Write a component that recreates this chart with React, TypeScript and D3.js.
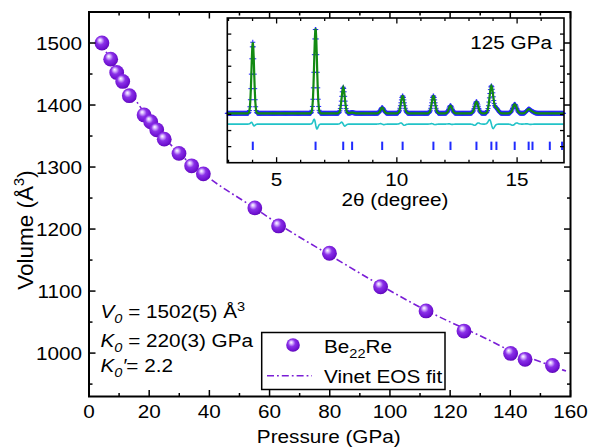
import React from 'react';
import * as d3 from 'd3';

// ---------- main data: Be22Re compression ----------
const pressure = [4.3, 7.2, 9.2, 11.2, 13.4, 18.3, 20.5, 22.5, 25.0, 29.9, 34.1, 38.0, 55.1, 63.0, 79.9, 96.9, 112.0, 124.6, 140.1, 144.9, 154.0];
const volume = [1500, 1474, 1452.5, 1438, 1415, 1384, 1373, 1360, 1345, 1322, 1302, 1289, 1234, 1205, 1161, 1107, 1068, 1035.5, 999.5, 990, 980];

// Vinet EOS fit curve
const fitP = [4, 10, 20, 30, 40, 55, 63, 80, 97, 112, 125, 130, 140, 150, 158.5];
const fitV = [1500, 1450, 1377, 1322, 1282, 1234, 1208, 1158, 1109, 1069, 1039, 1028, 1004, 986, 971];

const xMajor = [0, 20, 40, 60, 80, 100, 120, 140, 160];
const xMinor = [10, 30, 50, 70, 90, 110, 130, 150];
const yMajor = [1000, 1100, 1200, 1300, 1400, 1500];
const yMinor = [950, 1050, 1150, 1250, 1350, 1450, 1550];

// ---------- inset data: XRD pattern at 125 GPa ----------
const peakPos = [4.01, 6.62, 7.77, 8.14, 9.39, 10.24, 11.52, 12.23, 13.31, 13.93, 14.14, 14.9, 15.48, 15.64];
const peakHeight = [4.42, 5.29, 1.62, 0.05, 0.35, 1.08, 1.08, 0.47, 0.72, 1.7, 0.3, 0.56, 0.25, 0.08];
const peakWidth = [0.055, 0.058, 0.065, 0.065, 0.07, 0.07, 0.07, 0.07, 0.075, 0.075, 0.075, 0.08, 0.08, 0.08];
const diffAmp = [0.18, 0.5, 0.2, 0, 0.05, 0.12, 0.05, 0.03, -0.12, 0.45, 0, -0.12, 0.03, 0];
const reflections = [4.01, 6.62, 7.77, 8.14, 9.39, 10.24, 11.52, 12.23, 13.31, 13.93, 14.14, 14.9, 15.48, 15.64, 16.36, 16.87];
const obsBaseline = 3.07;
const diffBaseline = 2.4;
const insetXMajor = [5, 10, 15];
const insetXMinor = [3, 4, 6, 7, 8, 9, 11, 12, 13, 14, 16];
const insetYTicks = [1, 2, 3, 4, 5, 6, 7, 8];

const FONT = '"Liberation Sans", Arial, Helvetica, sans-serif';
const SX = 1.12;
const FS = 18.5;
const PURPLE = '#7a1ed6';

function T({ x, y, anchor = 'start', size = FS, rotate = false, sx = SX, children }: any) {
  const tr = rotate
    ? `translate(${x},${y}) rotate(-90) scale(1,${sx})`
    : `translate(${x},${y}) scale(${sx},1)`;
  return (
    <text transform={tr} textAnchor={anchor} fontSize={size} fontFamily={FONT} fill="#000">
      {children}
    </text>
  );
}

export default function App() {
  const W = 591, H = 447;
  const x = d3.scaleLinear().domain([0, 160]).range([89, 570.5]);
  const y = d3.scaleLinear().domain([930, 1550]).range([396.5, 12]);
  const L = 89, R = 570.5, Tp = 12, B = 396.5;

  const fitLine = d3.line<number>()
    .x((_, i) => x(fitP[i]))
    .y((_, i) => y(fitV[i]))
    .curve(d3.curveMonotoneX)(fitP.map((_, i) => i)) as string;

  // inset scales
  const ix = d3.scaleLinear().domain([2.95, 16.95]).range([227.3, 564]);
  const iy = d3.scaleLinear().domain([0, 9]).range([162.7, 18]);
  const iL = 227.3, iR = 564, iT = 18, iB = 162.7;

  const samples = d3.range(2.95, 16.95, 0.02);
  const calc = samples.map((t) => {
    let v = obsBaseline;
    peakPos.forEach((p, k) => {
      const s = peakWidth[k];
      v += peakHeight[k] * Math.exp(-((t - p) * (t - p)) / (2 * s * s));
    });
    return v;
  });
  const diff = samples.map((t) => {
    let v = diffBaseline;
    peakPos.forEach((p, k) => {
      const s = peakWidth[k];
      const u = (t - p) / s;
      v += diffAmp[k] * -u * Math.exp(-u * u / 2);
    });
    return v;
  });
  const calcPath = d3.line<number>().x((_, i) => ix(samples[i])).y((d) => iy(d))(calc) as string;
  const diffPath = d3.line<number>().x((_, i) => ix(samples[i])).y((d) => iy(d))(diff) as string;
  const obsPath = calc
    .map((v, i) => {
      const px = ix(samples[i]), py = iy(v);
      return `M${px - 2.5},${py}h5M${px},${py - 2.5}v5`;
    })
    .join('');

  const tickLines: React.ReactNode[] = [];
  xMajor.forEach((v) => {
    tickLines.push(<line key={'xb' + v} x1={x(v)} x2={x(v)} y1={B} y2={B - 6.5} />);
    tickLines.push(<line key={'xt' + v} x1={x(v)} x2={x(v)} y1={Tp} y2={Tp + 6.5} />);
  });
  xMinor.forEach((v) => {
    tickLines.push(<line key={'xbm' + v} x1={x(v)} x2={x(v)} y1={B} y2={B - 3.5} />);
    tickLines.push(<line key={'xtm' + v} x1={x(v)} x2={x(v)} y1={Tp} y2={Tp + 3.5} />);
  });
  yMajor.forEach((v) => {
    tickLines.push(<line key={'yl' + v} x1={L} x2={L + 6.5} y1={y(v)} y2={y(v)} />);
    tickLines.push(<line key={'yr' + v} x1={R} x2={R - 6.5} y1={y(v)} y2={y(v)} />);
  });
  yMinor.forEach((v) => {
    tickLines.push(<line key={'ylm' + v} x1={L} x2={L + 3.5} y1={y(v)} y2={y(v)} />);
    tickLines.push(<line key={'yrm' + v} x1={R} x2={R - 3.5} y1={y(v)} y2={y(v)} />);
  });

  const insetTicks: React.ReactNode[] = [];
  insetXMajor.forEach((v) => {
    insetTicks.push(<line key={'ixb' + v} x1={ix(v)} x2={ix(v)} y1={iB} y2={iB - 5.5} />);
    insetTicks.push(<line key={'ixt' + v} x1={ix(v)} x2={ix(v)} y1={iT} y2={iT + 5.5} />);
  });
  insetXMinor.forEach((v) => {
    insetTicks.push(<line key={'ixbm' + v} x1={ix(v)} x2={ix(v)} y1={iB} y2={iB - 3} />);
    insetTicks.push(<line key={'ixtm' + v} x1={ix(v)} x2={ix(v)} y1={iT} y2={iT + 3} />);
  });
  insetYTicks.forEach((v) => {
    insetTicks.push(<line key={'iyl' + v} x1={iL} x2={iL + 4} y1={iy(v)} y2={iy(v)} />);
    insetTicks.push(<line key={'iyr' + v} x1={iR} x2={iR - 4} y1={iy(v)} y2={iy(v)} />);
  });

  return (
    <svg width={W} height={H} style={{ position: 'absolute', left: 0, top: 0, background: '#fff' }}>
      <defs>
        <radialGradient id="ball" cx="0.45" cy="0.42" r="0.6" fx="0.36" fy="0.3">
          <stop offset="0" stopColor="#ffffff" />
          <stop offset="0.18" stopColor="#d7b6ff" />
          <stop offset="0.45" stopColor="#8a30e8" />
          <stop offset="0.85" stopColor="#6d10cf" />
          <stop offset="1" stopColor="#5a05b0" />
        </radialGradient>
      </defs>
      <rect x={0} y={0} width={W} height={H} fill="#fff" />

      {/* fit curve */}
      <path d={fitLine} fill="none" stroke={PURPLE} strokeWidth={1.6} strokeDasharray="7 3 1.8 3" />

      {/* data points */}
      {pressure.map((p, i) => (
        <circle key={i} cx={x(p)} cy={y(volume[i])} r={7.4} fill="url(#ball)" />
      ))}

      {/* main ticks and frame */}
      <g stroke="#000" strokeWidth={1.5}>{tickLines}</g>
      <rect x={L} y={Tp} width={R - L} height={B - Tp} fill="none" stroke="#000" strokeWidth={2} />

      {/* tick labels */}
      {xMajor.map((v) => (
        <T key={'xl' + v} x={x(v)} y={418} anchor="middle">{v}</T>
      ))}
      {yMajor.map((v) => (
        <T key={'yl' + v} x={82} y={y(v) + 6.6} anchor="end">{v}</T>
      ))}
      <T x={(L + R) / 2 - 1} y={442.5} anchor="middle">Pressure (GPa)</T>
      <T x={32.5} y={230} anchor="middle" rotate size={22.5} sx={1}>
        Volume (Å<tspan dy={-9} fontSize={14.5}>3</tspan><tspan dy={9}>)</tspan>
      </T>

      {/* EOS parameters */}
      <T x={100.5} y={318}>
        <tspan fontStyle="italic">V</tspan><tspan fontStyle="italic" fontSize={13} dy={5}>0</tspan>
        <tspan dy={-5}> = 1502(5) Å</tspan><tspan fontSize={13} dy={-7}>3</tspan>
      </T>
      <T x={100.5} y={346.5}>
        <tspan fontStyle="italic">K</tspan><tspan fontStyle="italic" fontSize={13} dy={5}>0</tspan>
        <tspan dy={-5}> = 220(3) GPa</tspan>
      </T>
      <T x={100.5} y={372}>
        <tspan fontStyle="italic">K</tspan><tspan fontStyle="italic" fontSize={13} dy={5}>0</tspan>
        <tspan dy={-5} fontStyle="italic">′</tspan><tspan>= 2.2</tspan>
      </T>

      {/* legend */}
      <rect x={261.7} y={332.5} width={183.3} height={57} fill="#fff" stroke="#000" strokeWidth={1.5} />
      <circle cx={293} cy={345} r={6.8} fill="url(#ball)" />
      <T x={324} y={352.5}>
        Be<tspan fontSize={13} dy={5}>22</tspan><tspan dy={-5}>Re</tspan>
      </T>
      <line x1={267} x2={312} y1={375.7} y2={375.7} stroke={PURPLE} strokeWidth={1.6} strokeDasharray="7 3 1.8 3" />
      <T x={324} y={383}>Vinet EOS fit</T>

      {/* inset */}
      <rect x={iL} y={iT} width={iR - iL} height={iB - iT} fill="#fff" />
      <g>
        <path d={diffPath} fill="none" stroke="#22c3c8" strokeWidth={1.6} />
        <path d={obsPath} fill="none" stroke="#2222ff" strokeWidth={1} />
        <path d={calcPath} fill="none" stroke="#138a13" strokeWidth={2.2} />
        {reflections.map((r, k) => (
          <line key={'rf' + k} x1={ix(r)} x2={ix(r)} y1={iy(1.31)} y2={iy(0.79)} stroke="#1f2bff" strokeWidth={2} />
        ))}
      </g>
      <g stroke="#000" strokeWidth={1.3}>{insetTicks}</g>
      <rect x={iL} y={iT} width={iR - iL} height={iB - iT} fill="none" stroke="#000" strokeWidth={1.6} />
      {insetXMajor.map((v) => (
        <T key={'ixl' + v} x={ix(v)} y={186} anchor="middle">{v}</T>
      ))}
      <T x={395} y={206} anchor="middle">2θ (degree)</T>
      <T x={552} y={49} anchor="end">125 GPa</T>
    </svg>
  );
}
